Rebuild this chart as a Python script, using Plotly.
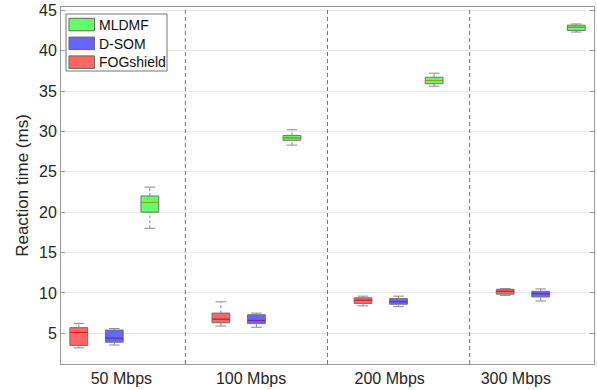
import plotly.graph_objects as go

groups = ["50 Mbps", "100 Mbps", "200 Mbps", "300 Mbps"]
label_pos = [2.2, 5.85, 9.75, 13.3]
separators = [4, 8, 12]

# per-method statistics for each bandwidth group: lower whisker, q1, median, q3, upper whisker
fog_low = [3.2, 5.9, 8.4, 9.7]
fog_q1 = [3.5, 6.3, 8.7, 9.85]
fog_med = [5.1, 6.75, 9.1, 10.2]
fog_q3 = [5.7, 7.5, 9.4, 10.45]
fog_up = [6.2, 8.9, 9.6, 10.55]

som_low = [3.55, 5.75, 8.3, 9.0]
som_q1 = [3.9, 6.2, 8.6, 9.5]
som_med = [4.4, 6.6, 8.9, 9.9]
som_q3 = [5.4, 7.3, 9.3, 10.2]
som_up = [5.6, 7.5, 9.6, 10.5]

mld_low = [18.0, 28.3, 35.6, 42.3]
mld_q1 = [20.0, 28.9, 35.9, 42.5]
mld_med = [21.2, 29.2, 36.3, 42.9]
mld_q3 = [22.0, 29.5, 36.7, 43.15]
mld_up = [23.1, 30.2, 37.2, 43.3]

series = [
    # name, offset, stats, fill, median colour
    ("FOGshield", 1, (fog_low, fog_q1, fog_med, fog_q3, fog_up), "rgb(255,102,102)", "rgb(220,20,20)"),
    ("D-SOM", 2, (som_low, som_q1, som_med, som_q3, som_up), "rgb(102,102,255)", "rgb(130,20,170)"),
    ("MLDMF", 3, (mld_low, mld_q1, mld_med, mld_q3, mld_up), "rgb(102,255,102)", "rgb(150,160,20)"),
]
legend_order = ["MLDMF", "D-SOM", "FOGshield"]

W, H = 597, 390
ML, MR, MT, MB = 61, 3, 7, 26
PW, PH = W - ML - MR, H - MT - MB


def px(xp):
    return (xp - ML) / PW


def py(yp):
    return 1 - (yp - MT) / PH


edge = "#707070"
whisk = "#8a8a8a"
bw = 0.5
cap = 0.3

fig = go.Figure()
for name, off, (lo, q1, med, q3, up), fill, mcol in series:
    xs = [4 * i + off for i in range(len(groups))]
    fig.add_trace(go.Box(
        x=xs, q1=q1, median=med, q3=q3, lowerfence=q1, upperfence=q3,
        width=bw, fillcolor=fill, line=dict(color=edge, width=1),
        name=name, showlegend=False, whiskerwidth=0, hoverinfo="skip",
    ))
    wx, wy = [], []
    for x, a, b, c, d in zip(xs, lo, q1, q3, up):
        wx += [x, x, None, x, x, None]
        wy += [a, b, None, c, d, None]
    fig.add_trace(go.Scatter(x=wx, y=wy, mode="lines", showlegend=False, hoverinfo="skip",
                             line=dict(color=whisk, width=1, dash="3px,2px")))
    cx, cy = [], []
    for x, a, d in zip(xs, lo, up):
        cx += [x - cap / 2, x + cap / 2, None, x - cap / 2, x + cap / 2, None]
        cy += [a, a, None, d, d, None]
    fig.add_trace(go.Scatter(x=cx, y=cy, mode="lines", showlegend=False, hoverinfo="skip",
                             line=dict(color=whisk, width=1)))
    mx, my = [], []
    for x, m in zip(xs, med):
        mx += [x - bw / 2, x + bw / 2, None]
        my += [m, m, None]
    fig.add_trace(go.Scatter(x=mx, y=my, mode="lines", showlegend=False, hoverinfo="skip",
                             line=dict(color=mcol, width=1)))

for s in separators:
    fig.add_shape(type="line", xref="x", yref="paper", x0=s, x1=s, y0=0, y1=1,
                  line=dict(color="#777777", width=1, dash="4px,3px"))

# legend box drawn manually (MATLAB style)
fig.add_shape(type="rect", xref="paper", yref="paper", x0=px(66), x1=px(167), y0=py(71), y1=py(14),
              line=dict(color="#777777", width=1), fillcolor="white", layer="above")
fills = {n: f for n, _, _, f, _ in series}
for k, name in enumerate(legend_order):
    top = 18.3 + k * 18.8
    fig.add_shape(type="rect", xref="paper", yref="paper", x0=px(69), x1=px(94.5),
                  y0=py(top + 12.5), y1=py(top), line=dict(color="#666666", width=1),
                  fillcolor=fills[name], layer="above")
    fig.add_annotation(xref="paper", yref="paper", x=px(96.5), y=py(top + 6.5), text=name,
                       showarrow=False, xanchor="left", yanchor="middle",
                       font=dict(size=14, color="#111111"))

fig.update_layout(
    width=W, height=H,
    margin=dict(l=ML, r=MR, t=MT, b=MB),
    paper_bgcolor="white", plot_bgcolor="white",
    font=dict(family="Liberation Sans, Arial, sans-serif", size=16, color="#262626"),
    showlegend=False,
    boxmode="overlay",
)
fig.update_xaxes(range=[0.5, 15.5], tickvals=label_pos, ticktext=groups, ticks="",
                 showgrid=False, zeroline=False, showline=True, linecolor="#999999",
                 mirror=True, tickfont=dict(size=16))
fig.update_yaxes(range=[1.2, 45.4], tickvals=[5, 10, 15, 20, 25, 30, 35, 40, 45],
                 title=dict(text="Reaction time (ms)", font=dict(size=17), standoff=6),
                 showgrid=True, gridcolor="#e8e8e8", zeroline=False,
                 ticks="inside", ticklen=4, tickcolor="#999999",
                 showline=True, linecolor="#999999", mirror="ticks", tickfont=dict(size=16))

fig.write_html("out.html", config={"displayModeBar": False},
               post_script="document.body.style.margin='0';")
